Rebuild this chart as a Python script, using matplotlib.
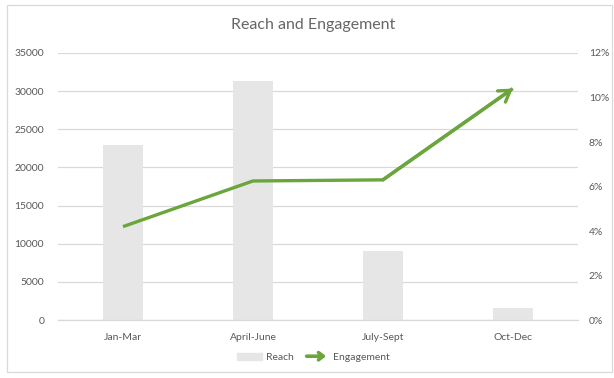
import matplotlib.pyplot as plt
from matplotlib.patches import Patch, Rectangle, FancyArrowPatch
from matplotlib.lines import Line2D
from matplotlib.legend_handler import HandlerBase

quarters = ['Jan-Mar', 'April-June', 'July-Sept', 'Oct-Dec']
reach = [22900, 31300, 9000, 1600]
engagement = [4.2, 6.25, 6.3, 10.4]

left_ticks = list(range(0, 35001, 5000))
right_ticks = list(range(0, 13, 2))

bar_color = '#e7e6e6'
line_color = '#6aa63c'
text_color = '#595959'
grid_color = '#d9d9d9'

plt.rcParams['font.family'] = ['Lato', 'DejaVu Sans']


class ArrowHandler(HandlerBase):
    def create_artists(self, legend, orig, xd, yd, width, height, fontsize, trans):
        y = yd + height / 2
        arr = FancyArrowPatch((xd, y), (xd + width, y),
                              arrowstyle='->,head_length=0.45,head_width=0.35',
                              mutation_scale=fontsize, color=line_color, lw=2.6,
                              transform=trans)
        return [arr]


fig = plt.figure(figsize=(6.14, 3.78), dpi=100)
ax = fig.add_axes([0.0945, 0.153, 0.8465, 0.707])
ax2 = ax.twinx()

x = list(range(len(quarters)))
ax.bar(x, reach, width=0.31, color=bar_color, zorder=2)
ax.set_xlim(-0.5, len(quarters) - 0.5)
ax.set_ylim(0, 35000)
ax.set_yticks(left_ticks)
ax.set_yticklabels([str(t) for t in left_ticks])
ax.set_xticks(x)
ax.set_xticklabels(quarters)
ax.yaxis.grid(True, color=grid_color, lw=0.9, zorder=0)
ax.set_axisbelow(True)

ax2.plot(x, engagement, color=line_color, lw=2.4, solid_capstyle='butt', zorder=3)
ax2.annotate('', xy=(x[-1], engagement[-1]), xytext=(x[-2], engagement[-2]),
             arrowprops=dict(arrowstyle='->,head_length=0.55,head_width=0.35',
                             color=line_color, lw=2.4, mutation_scale=14,
                             shrinkA=0, shrinkB=0))
ax2.set_ylim(0, 12)
ax2.set_yticks(right_ticks)
ax2.set_yticklabels([f'{t}%' for t in right_ticks])

for a in (ax, ax2):
    for side in ('top', 'left', 'right', 'bottom'):
        a.spines[side].set_visible(False)
    a.tick_params(length=0, labelsize=7.5, colors=text_color)
ax.spines['bottom'].set_visible(True)
ax.spines['bottom'].set_color(grid_color)
ax.spines['bottom'].set_linewidth(0.9)
ax.tick_params(axis='y', pad=10)
ax.tick_params(axis='x', pad=9)
ax2.tick_params(axis='y', pad=8)

fig.text(0.51, 0.933, 'Reach and Engagement', ha='center', va='center',
         fontsize=11.5, color='#666666')

handles = [Patch(color=bar_color), Line2D([], [], color=line_color)]
fig.legend(handles, ['Reach', 'Engagement'], loc='center',
           bbox_to_anchor=(0.51, 0.055), ncol=2, frameon=False,
           fontsize=7.5, labelcolor=text_color, handlelength=2.4,
           handletextpad=0.4, columnspacing=1.0,
           handler_map={Line2D: ArrowHandler()})

fig.patches.append(Rectangle((7 / 614, 6 / 378), 605 / 614, 367 / 378,
                             transform=fig.transFigure, fill=False,
                             edgecolor=grid_color, lw=0.9))

fig.savefig('out.png', dpi=100)
